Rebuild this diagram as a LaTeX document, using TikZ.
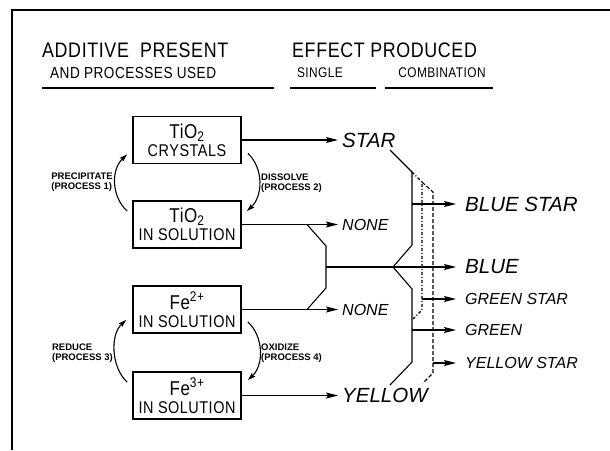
\documentclass[tikz,border=0pt]{standalone}
\usepackage{fontspec}
\setmainfont{Liberation Sans}
\newfontfamily\lettering[FakeStretch=0.85,LetterSpace=3]{Liberation Sans}
\usetikzlibrary{arrows.meta}

\begin{document}
\begin{tikzpicture}[x=1pt,y=-1pt,
    box/.style={draw,line width=1.8pt,minimum width=108pt,minimum height=47pt,
      align=center,inner sep=0pt,font=\lettering\fontsize{17}{18}\selectfont},
    head/.style={anchor=west,inner sep=0pt,font=\lettering\fontsize{21}{23}\selectfont},
    subhead/.style={inner sep=0pt,font=\lettering\fontsize{14}{16}\selectfont},
    proc/.style={align=left,inner sep=1pt,font=\fontsize{9.5}{10.5}\selectfont\bfseries},
    single/.style={anchor=west,inner xsep=4pt,font=\fontsize{20.5}{22}\selectfont\itshape},
    nothing/.style={anchor=west,inner xsep=4pt,font=\fontsize{16}{18}\selectfont\itshape},
    combo/.style={anchor=west,inner xsep=9pt,font=\fontsize{20.5}{22}\selectfont\itshape},
    combosmall/.style={anchor=west,inner xsep=9pt,font=\fontsize{16}{18}\selectfont\itshape},
    res/.style={line width=1.2pt,-{Stealth[length=12pt,width=6pt,inset=2pt]}},
    cyc/.style={line width=1.1pt,-{Stealth[length=8pt,width=5pt,inset=1.5pt]}},
    brk/.style={line width=1.1pt},
    dashdot/.style={line width=1.1pt,dash pattern=on 3pt off 2pt on 1pt off 2pt},
    dsh/.style={line width=1.1pt,dash pattern=on 4pt off 2pt}]
  \useasboundingbox (0,0) rectangle (610,450);
  % frame and headings
  \draw[line width=1.2pt] (12,450) -- (12,10) -- (610,10);
  \node[head] (additive) at (42,50) {ADDITIVE\ \ PRESENT};
  \node[subhead,anchor=west,font=\lettering\fontsize{16}{18}\selectfont] (processes) at (50,73) {AND PROCESSES USED};
  \node[head] (effect) at (292,50) {EFFECT PRODUCED};
  \node[subhead] (singlehd) at (320,73) {SINGLE};
  \node[subhead] (combohd) at (442,73) {COMBINATION};
  \draw[line width=1.3pt] (42,88) -- (274,88);
  \draw[line width=1.3pt] (290,88) -- (376,88);
  \draw[line width=1.3pt] (385,88) -- (493,88);

  % additives
  \node[box] (crystals) at (187,140) {{\fontsize{20}{21}\selectfont TiO\textsubscript{2}}\\CRYSTALS};
  \node[box] (tisol) at (187,224.5) {{\fontsize{20}{21}\selectfont TiO\textsubscript{2}}\\IN SOLUTION};
  \node[box] (fetwo) at (187,309.5) {{\fontsize{20}{21}\selectfont Fe\textsuperscript{2+}}\\IN SOLUTION};
  \node[box] (fethree) at (187,395.5) {{\fontsize{20}{21}\selectfont Fe\textsuperscript{3+}}\\IN SOLUTION};

  % processes
  \draw[cyc] ([shift={(-5pt,-11pt)}]tisol.north west) .. controls +(-16,-15) and +(-16,15) .. ([shift={(-5pt,10pt)}]crystals.south west);
  \draw[cyc] ([shift={(6pt,11pt)}]crystals.south east) .. controls +(16,15) and +(16,-15) .. ([shift={(5pt,-11pt)}]tisol.north east);
  \draw[cyc] ([shift={(-5pt,-11pt)}]fethree.north west) .. controls +(-16,-15) and +(-16,15) .. ([shift={(-6pt,14pt)}]fetwo.south west);
  \draw[cyc] ([shift={(6pt,12pt)}]fetwo.south east) .. controls +(16,15) and +(16,-15) .. ([shift={(6pt,-9pt)}]fethree.north east);
  \node[proc,anchor=east] (precip) at (114,182) {PRECIPITATE\\(PROCESS 1)};
  \node[proc,anchor=west] (dissolve) at (260,183) {DISSOLVE\\(PROCESS 2)};
  \node[proc,anchor=east] (reduce) at (114,353) {REDUCE\\(PROCESS 3)};
  \node[proc,anchor=west] (oxidize) at (260,353) {OXIDIZE\\(PROCESS 4)};

  % single effects
  \node[single] (star) at (338,140) {STAR};
  \node[nothing] (noneA) at (338,224.5) {NONE};
  \node[nothing] (noneB) at (338,309.5) {NONE};
  \node[single] (yellow) at (338,395.5) {YELLOW};
  \draw[res] (crystals.east) -- (star.west);
  \draw[res] (tisol.east) -- (noneA.west);
  \draw[res] (fetwo.east) -- (noneB.west);
  \draw[res] (fethree.east) -- (yellow.west);

  % combinations
  \node[combo] (bluestar) at (456,204) {BLUE STAR};
  \node[combo] (blue) at (456,267) {BLUE};
  \node[combosmall] (greenstar) at (456,299) {GREEN STAR};
  \node[combosmall] (green) at (456,330) {GREEN};
  \node[combosmall] (yellowstar) at (456,363) {YELLOW STAR};

  \coordinate (a1) at (307,224.5);
  \coordinate (a2) at (326,246);
  \coordinate (aj) at (326,267);
  \coordinate (a3) at (326,288);
  \coordinate (a4) at (307,309.5);
  \draw[brk] (a1) -- (a2) -- (a3) -- (a4);
  \draw[res] (aj) -- (blue.west);

  \coordinate (b1) at (390,150);
  \coordinate (b2) at (412,172);
  \coordinate (b3) at (412,245);
  \coordinate (bj) at (393,267);
  \coordinate (b4) at (412,289);
  \coordinate (b5) at (412,362);
  \coordinate (b6) at (390,385);
  \draw[brk] (b1) -- (b2) -- (b3) -- (bj) -- (b4) -- (b5) -- (b6);
  \draw[res] (b2 |- bluestar.west) -- (bluestar.west);
  \draw[res] (b4 |- green.west) -- (green.west);

  \coordinate (c1) at (422,182);
  \coordinate (c2) at (422,310);
  \coordinate (c3) at (412,320);
  \draw[dashdot] (b2) -- (c1) -- (c2) -- (c3);
  \draw[res] (c1 |- greenstar.west) -- (greenstar.west);

  \coordinate (d1) at (433,192);
  \coordinate (d2) at (433,373);
  \coordinate (d3) at (423,383);
  \draw[dsh] (c1) -- (d1) -- (d2) -- (d3);
  \draw[res] (d1 |- yellowstar.west) -- (yellowstar.west);
\end{tikzpicture}
\end{document}
